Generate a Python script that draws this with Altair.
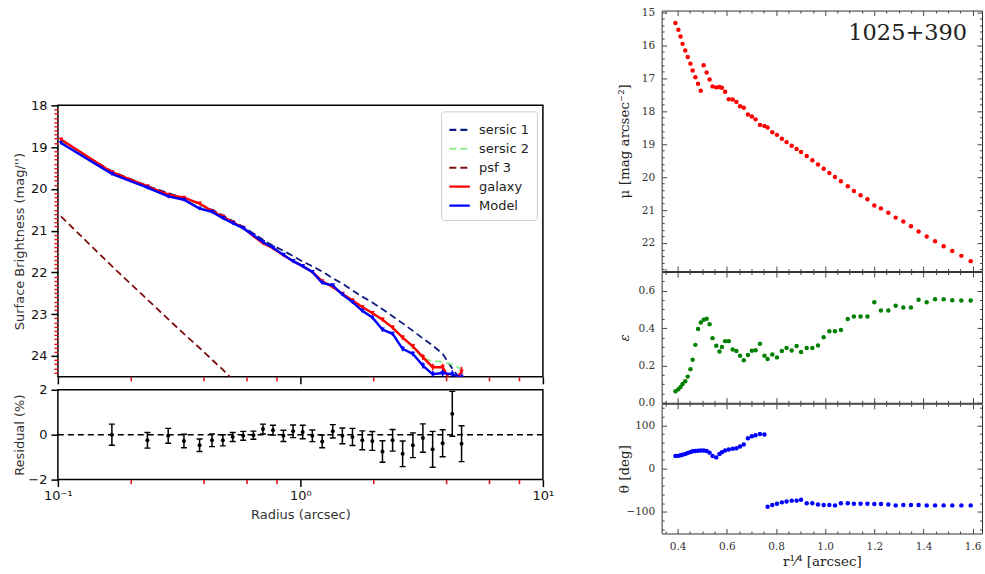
import altair as alt
import pandas as pd

# ---------------- left: surface brightness profile ----------------
radius = [0.103, 0.167, 0.234, 0.285, 0.331, 0.384, 0.432, 0.479, 0.526, 0.581,
          0.640, 0.701, 0.771, 0.851, 0.933, 1.022, 1.12, 1.23, 1.36, 1.49,
          1.64, 1.80, 1.98, 2.18, 2.40, 2.64, 2.91, 3.20, 3.51, 3.86, 4.23, 4.62]
galaxy_mu = [18.82, 19.60, 19.94, 20.14, 20.21, 20.35, 20.53, 20.66, 20.80, 20.93,
             21.13, 21.30, 21.42, 21.59, 21.73, 21.85, 21.99, 22.21, 22.35, 22.51,
             22.67, 22.83, 22.97, 23.13, 23.32, 23.56, 23.77, 24.03, 24.27, 24.27, 24.67, 24.38]
galaxy_err = [0.03, 0.02, 0.02, 0.02, 0.02, 0.02, 0.02, 0.02, 0.02, 0.02,
              0.02, 0.02, 0.02, 0.02, 0.02, 0.03, 0.03, 0.03, 0.03, 0.03,
              0.04, 0.04, 0.04, 0.05, 0.05, 0.06, 0.06, 0.07, 0.08, 0.08, 0.12, 0.12]
model_mu = [18.90, 19.64, 19.97, 20.18, 20.26, 20.47, 20.55, 20.70, 20.82, 20.94,
            21.11, 21.27, 21.41, 21.58, 21.73, 21.85, 21.99, 22.25, 22.31, 22.53,
            22.71, 22.92, 23.08, 23.37, 23.47, 23.83, 23.95, 24.23, 24.44, 24.41, 24.44, 24.52]
model_err = [0.03, 0.02, 0.02, 0.02, 0.02, 0.02, 0.02, 0.02, 0.02, 0.02,
             0.02, 0.02, 0.02, 0.02, 0.02, 0.03, 0.03, 0.03, 0.03, 0.03,
             0.04, 0.04, 0.04, 0.05, 0.05, 0.06, 0.06, 0.07, 0.08, 0.08, 0.10, 0.10]
sersic1_mu = [18.85, 19.58, 19.93, 20.10, 20.22, 20.36, 20.50, 20.63, 20.77, 20.91,
              21.07, 21.22, 21.36, 21.48, 21.61, 21.74, 21.85, 21.98, 22.14, 22.27,
              22.43, 22.58, 22.72, 22.88, 23.05, 23.22, 23.40, 23.58, 23.75, 23.95, 24.30, 24.60]
sersic2_mu = [18.84, 19.61, 19.95, 20.15, 20.23, 20.38, 20.54, 20.68, 20.81, 20.94,
              21.13, 21.30, 21.42, 21.59, 21.73, 21.85, 21.99, 22.22, 22.35, 22.52,
              22.68, 22.85, 22.98, 23.15, 23.33, 23.55, 23.80, 24.05, 24.13, 24.14, 24.20, 24.32]
psf3_radius = [0.103, 0.167, 0.234, 0.285, 0.331, 0.384, 0.432, 0.479, 0.526]
psf3_mu = [20.66, 21.85, 22.65, 23.12, 23.47, 23.81, 24.09, 24.33, 24.57]

res_radius = [0.167, 0.234, 0.285, 0.331, 0.384, 0.432, 0.479, 0.526, 0.581,
              0.640, 0.701, 0.771, 0.851, 0.933, 1.022, 1.12, 1.23, 1.36, 1.49,
              1.64, 1.80, 1.98, 2.18, 2.40, 2.64, 2.91, 3.20, 3.51, 3.86, 4.23, 4.62]
residual = [0.00, -0.25, -0.05, -0.28, -0.47, -0.25, -0.25, -0.10, -0.05, -0.02,
            0.25, 0.20, -0.05, 0.15, 0.12, -0.05, -0.30, 0.15, -0.05, -0.10,
            -0.25, -0.28, -0.75, -0.25, -0.85, -0.47, -0.15, -0.65, -0.38, 0.93, -0.40]
residual_err = [0.47, 0.35, 0.33, 0.30, 0.28, 0.28, 0.25, 0.20, 0.20, 0.18,
                0.22, 0.22, 0.25, 0.28, 0.30, 0.26, 0.28, 0.30, 0.35, 0.38,
                0.42, 0.42, 0.48, 0.48, 0.57, 0.55, 0.63, 0.80, 0.60, 1.00, 0.80]

# ---------------- right: isophote fit (1025+390) ----------------
r_quarter = [0.391, 0.403, 0.412, 0.420, 0.431, 0.441, 0.452, 0.461, 0.472, 0.483,
             0.494, 0.506, 0.518, 0.530, 0.542, 0.557, 0.570, 0.580, 0.593, 0.608,
             0.624, 0.639, 0.654, 0.669, 0.686, 0.702, 0.717, 0.735, 0.753, 0.766,
             0.785, 0.804, 0.824, 0.843, 0.864, 0.884, 0.902, 0.925, 0.948, 0.971,
             0.994, 1.017, 1.040, 1.064, 1.092, 1.117, 1.144, 1.172, 1.200, 1.227,
             1.257, 1.287, 1.318, 1.349, 1.380, 1.413, 1.447, 1.482, 1.517, 1.554, 1.592]
mu_iso = [15.33, 15.53, 15.74, 15.96, 16.16, 16.36, 16.56, 16.77, 16.97, 17.17,
          17.38, 16.61, 16.83, 17.04, 17.25, 17.28, 17.27, 17.29, 17.41, 17.64,
          17.65, 17.72, 17.85, 17.90, 18.10, 18.16, 18.25, 18.42, 18.45, 18.50,
          18.64, 18.72, 18.84, 18.94, 19.05, 19.15, 19.24, 19.36, 19.49, 19.62,
          19.75, 19.88, 20.00, 20.13, 20.28, 20.42, 20.55, 20.67, 20.86, 20.95,
          21.08, 21.23, 21.35, 21.49, 21.65, 21.80, 21.95, 22.10, 22.24, 22.39, 22.55]
ellip = [0.062, 0.072, 0.085, 0.100, 0.115, 0.140, 0.180, 0.230, 0.310, 0.395,
         0.430, 0.445, 0.450, 0.420, 0.346, 0.305, 0.275, 0.298, 0.330, 0.330,
         0.285, 0.277, 0.252, 0.228, 0.256, 0.278, 0.281, 0.316, 0.252, 0.234,
         0.258, 0.243, 0.277, 0.293, 0.280, 0.304, 0.272, 0.293, 0.293, 0.307,
         0.351, 0.383, 0.383, 0.390, 0.449, 0.462, 0.462, 0.462, 0.538, 0.494,
         0.494, 0.520, 0.510, 0.510, 0.552, 0.538, 0.554, 0.554, 0.549, 0.547, 0.547]
pa_deg = [29, 29.5, 31, 32, 34, 36, 38.5, 40, 41, 41.5,
          42, 42, 41, 37, 29, 26, 34, 38, 42, 44,
          46, 47, 51, 56, 70, 75, 77, 80, 79, -88,
          -84, -81, -78, -76, -74, -74, -72, -80, -80, -83,
          -84, -84, -85, -80, -80, -81, -81, -81, -82, -82,
          -83, -85, -84, -84, -84, -85, -85, -85, -85, -85, -85]
object_name = ["1025+390"]

series_names = ["sersic 1", "sersic 2", "psf 3", "galaxy", "Model"]
series_colors = ["#0b1a80", "#8fee8f", "#7d0f0f", "#ff0000", "#0000ff"]
series_dash = [[7, 4], [7, 4], [7, 4], [1, 0], [1, 0]]

SANS = "DejaVu Sans"
SERIF = "DejaVu Serif"

# ---------------- data frames ----------------
comp_df = pd.concat([
    pd.DataFrame({"series": "sersic 1", "r": radius, "mu": sersic1_mu}),
    pd.DataFrame({"series": "sersic 2", "r": radius, "mu": sersic2_mu}),
    pd.DataFrame({"series": "psf 3", "r": psf3_radius, "mu": psf3_mu}),
], ignore_index=True)
gal_df = pd.DataFrame({"series": "galaxy", "r": radius, "mu": galaxy_mu, "err": galaxy_err})
mod_df = pd.DataFrame({"series": "Model", "r": radius, "mu": model_mu, "err": model_err})
for d in (gal_df, mod_df):
    d["lo"] = d["mu"] - d["err"]
    d["hi"] = d["mu"] + d["err"]
res_df = pd.DataFrame({"r": res_radius, "res": residual, "err": residual_err})
res_df["lo"] = res_df["res"] - res_df["err"]
res_df["hi"] = res_df["res"] + res_df["err"]
zero_df = pd.DataFrame({"zero": [0.0]})
iso_df = pd.DataFrame({"rq": r_quarter, "mu": mu_iso, "eps": ellip, "pa": pa_deg})

# ---------------- scales / axes helpers ----------------
x_log = alt.Scale(type="log", domain=[0.1, 10], nice=False)
y_sb = alt.Scale(domain=[18, 24.5], reverse=True, nice=False, zero=False)
y_res = alt.Scale(domain=[-2, 2], nice=False, zero=False)
color_scale = alt.Scale(domain=series_names, range=series_colors)
dash_scale = alt.Scale(domain=series_names, range=series_dash)

log_minor = [0.2, 0.4, 0.6, 0.8, 2, 4, 6, 8]
sb_minor = [round(18 + 0.1 * i, 1) for i in range(1, 65) if i % 10 != 0]


def plain_axis(orient, values, size, color, width, offset=0):
    return alt.Axis(orient=orient, values=values, tickSize=size, tickColor=color,
                    tickWidth=width, offset=offset, labels=False, domain=False,
                    grid=False, title=None)


legend_sb = alt.Legend(title=None, orient="top-right", offset=6, padding=7,
                       rowPadding=0, symbolType="stroke", symbolSize=420,
                       symbolStrokeWidth=2.2, labelFont=SANS, labelFontSize=13,
                       labelColor="#222", labelOffset=8, strokeColor="#cccccc",
                       fillColor="white", cornerRadius=3)

axis_sb_y = alt.Axis(orient="left", values=list(range(18, 25)), format="d",
                     tickSize=7, tickWidth=1.5, tickColor="black", domain=False,
                     grid=False, labelFont=SANS, labelFontSize=13, labelColor="#111",
                     labelPadding=4, title="Surface Brightness (mag/'')",
                     titleFont=SANS, titleFontSize=13, titleFontWeight="normal",
                     titleColor="#333", titleX=-31)
axis_sb_x = plain_axis("bottom", [0.1, 1, 10], 7, "black", 1.5)

comp_layer = alt.Chart(comp_df).mark_line(clip=True, strokeWidth=1.8).encode(
    x=alt.X("r:Q", scale=x_log, axis=axis_sb_x),
    y=alt.Y("mu:Q", scale=y_sb, axis=axis_sb_y),
    color=alt.Color("series:N", scale=color_scale, legend=legend_sb),
    strokeDash=alt.StrokeDash("series:N", scale=dash_scale, legend=legend_sb),
)
sb_minor_layer = alt.Chart(gal_df).mark_point(opacity=0, clip=True).encode(
    x=alt.X("r:Q", scale=x_log, axis=plain_axis("bottom", log_minor, 4, "#e8101a", 1.6)),
    y=alt.Y("mu:Q", scale=y_sb, axis=plain_axis("left", sb_minor, 4, "#e8101a", 1.4)),
)


def profile_layers(df, color):
    base = alt.Chart(df)
    line = base.mark_line(clip=True, strokeWidth=2.4).encode(
        x=alt.X("r:Q", scale=x_log, axis=None),
        y=alt.Y("mu:Q", scale=y_sb, axis=None),
        color=alt.Color("series:N", scale=color_scale, legend=legend_sb),
    )
    bars = base.mark_rule(clip=True, strokeWidth=1.6, color=color).encode(
        x=alt.X("r:Q", scale=x_log, axis=None),
        y=alt.Y("lo:Q", scale=y_sb, axis=None),
        y2="hi:Q",
    )
    pts = base.mark_point(clip=True, shape="triangle-down", filled=True, size=22,
                          opacity=1, color=color).encode(
        x=alt.X("r:Q", scale=x_log, axis=None),
        y=alt.Y("mu:Q", scale=y_sb, axis=None),
    )
    return [line, bars, pts]


sb_panel = alt.layer(
    comp_layer, sb_minor_layer, *profile_layers(gal_df, "#ff0000"),
    *profile_layers(mod_df, "#0000ff")
).resolve_axis(x="independent", y="independent").properties(width=486, height=272)

# residual panel
axis_res_x = alt.Axis(orient="bottom", values=[0.1, 1, 10],
                      labelExpr="datum.value < 0.5 ? '10⁻¹' : (datum.value < 5 ? '10⁰' : '10¹')",
                      tickSize=7, tickWidth=1.5, tickColor="black", domain=False,
                      grid=False, labelFont=SANS, labelFontSize=13, labelColor="#111",
                      labelPadding=3, labelFlush=False, labelOverlap=False,
                      title="Radius (arcsec)", titleFont=SANS, titleFontSize=13,
                      titleFontWeight="normal", titleColor="#333", titlePadding=6)
axis_res_y = alt.Axis(orient="left", values=[-2, 0, 2], format="d", tickSize=7,
                      tickWidth=1.5, tickColor="black", domain=False, grid=False,
                      labelFont=SANS, labelFontSize=13, labelColor="#111",
                      labelPadding=4, title="Residual (%)", titleFont=SANS,
                      titleFontSize=13, titleFontWeight="normal", titleColor="#333",
                      titleX=-31)
res_base = alt.Chart(res_df)
res_zero = alt.Chart(zero_df).mark_rule(color="black", strokeWidth=1.5,
                                        strokeDash=[6, 4]).encode(
    y=alt.Y("zero:Q", scale=y_res, axis=None))
res_bars = res_base.mark_rule(color="black", strokeWidth=1.5, clip=True).encode(
    x=alt.X("r:Q", scale=x_log, axis=axis_res_x),
    y=alt.Y("lo:Q", scale=y_res, axis=axis_res_y),
    y2="hi:Q",
)
res_minor = res_base.mark_point(opacity=0, clip=True).encode(
    x=alt.X("r:Q", scale=x_log, axis=plain_axis("bottom", log_minor, 4, "#e8101a", 1.6)),
    y=alt.Y("res:Q", scale=y_res, axis=None),
)
res_cap_lo = res_base.mark_tick(orient="horizontal", size=6, thickness=1.4,
                                color="black", opacity=1, clip=True).encode(
    x=alt.X("r:Q", scale=x_log, axis=None), y=alt.Y("lo:Q", scale=y_res, axis=None))
res_cap_hi = res_base.mark_tick(orient="horizontal", size=6, thickness=1.4,
                                color="black", opacity=1, clip=True).encode(
    x=alt.X("r:Q", scale=x_log, axis=None), y=alt.Y("hi:Q", scale=y_res, axis=None))
res_pts = res_base.mark_circle(size=16, color="black", opacity=1, clip=True).encode(
    x=alt.X("r:Q", scale=x_log, axis=None), y=alt.Y("res:Q", scale=y_res, axis=None))

res_panel = alt.layer(res_bars, res_minor, res_zero, res_cap_lo, res_cap_hi, res_pts
                      ).resolve_axis(x="independent", y="independent"
                                     ).properties(width=486, height=90)

spacer = alt.Chart(zero_df).mark_point(opacity=0).encode(
    x=alt.X("zero:Q", axis=None), y=alt.Y("zero:Q", axis=None)
).properties(width=486, height=82, view=alt.ViewBackground(strokeOpacity=0))

left_col = alt.vconcat(spacer, sb_panel, res_panel, spacing=13, bounds="flush"
                       ).resolve_scale(color="independent", strokeDash="independent")

# ---------------- right panels ----------------
x_rq = alt.Scale(domain=[0.335, 1.638], nice=False, zero=False)
rq_major = [0.4, 0.6, 0.8, 1.0, 1.2, 1.4, 1.6]
rq_minor = [round(0.35 + 0.05 * i, 2) for i in range(0, 26) if i % 4 != 1]
TICK_C = "#444"


def in_axis(orient, values, size):
    return alt.Axis(orient=orient, values=values, offset=-size, tickSize=size,
                    tickColor=TICK_C, tickWidth=1, labels=False, domain=False,
                    grid=False, title=None)


def right_panel(field, yscale, ymaj, ymin, yfmt, ytitle, color, height,
                show_x=False, italic=False, extra=None):
    base = alt.Chart(iso_df)
    if show_x:
        x_axis = alt.Axis(orient="bottom", values=rq_major, format=".1f", ticks=False,
                          domain=False, grid=False, labelFont=SERIF, labelFontSize=10.5,
                          labelColor="#333", labelPadding=8, labelFlush=False,
                          labelOverlap=False, title="r¹⁄⁴ [arcsec]", titleFont=SERIF,
                          titleFontSize=13.5, titleFontWeight="normal",
                          titleColor="#222", titlePadding=3)
    else:
        x_axis = None
    y_axis = alt.Axis(orient="left", values=ymaj, format=yfmt, ticks=False,
                      domain=False, grid=False, labelFont=SERIF, labelFontSize=10.5,
                      labelColor="#333", labelPadding=7, labelFlush=False,
                      labelOverlap=False, title=ytitle, titleFont=SERIF,
                      titleFontSize=13.5, titleFontWeight="normal",
                      titleFontStyle=("italic" if italic else "normal"),
                      titleColor="#222", titleX=-30)
    pts = base.mark_circle(size=20, opacity=1, color=color, clip=True).encode(
        x=alt.X("rq:Q", scale=x_rq, axis=x_axis),
        y=alt.Y(f"{field}:Q", scale=yscale, axis=y_axis),
    )
    layers = [pts]
    for ox, oy in (("bottom", "left"), ("top", "right")):
        for xv, yv, sz in ((rq_major, ymaj, 5), (rq_minor, ymin, 2.5)):
            layers.append(base.mark_point(opacity=0, clip=True).encode(
                x=alt.X("rq:Q", scale=x_rq, axis=in_axis(ox, xv, sz)),
                y=alt.Y(f"{field}:Q", scale=yscale, axis=in_axis(oy, yv, sz)),
            ))
    if extra is not None:
        layers.append(extra)
    return alt.layer(*layers).resolve_axis(x="independent", y="independent").properties(
        width=321, height=height, view=alt.ViewBackground(stroke="#333", strokeWidth=1))


label_layer = alt.Chart(pd.DataFrame({"name": object_name})).mark_text(
    align="right", baseline="middle", font=SERIF, fontSize=22.5, color="#222"
).encode(x=alt.value(306), y=alt.value(23), text="name:N")

mu_minor = [round(15 + 0.2 * i, 1) for i in range(1, 40) if i % 5 != 0]
eps_minor = [0.05, 0.1, 0.15, 0.25, 0.3, 0.35, 0.45, 0.5, 0.55, 0.65]
pa_minor = [v for v in range(-140, 150, 20) if v % 100 != 0]

p_mu = right_panel("mu", alt.Scale(domain=[14.95, 22.85], reverse=True, nice=False, zero=False),
                   list(range(15, 23)), mu_minor, "d", "μ [mag arcsec⁻²]", "#ff0000", 261,
                   extra=label_layer)
p_eps = right_panel("eps", alt.Scale(domain=[0, 0.7], nice=False, zero=False),
                    [0, 0.2, 0.4, 0.6], eps_minor, ".1f", "ε", "#008000", 131, italic=True)
p_pa = right_panel("pa", alt.Scale(domain=[-150, 150], nice=False, zero=False),
                   [-100, 0, 100], pa_minor, "d", "θ [deg]", "#0000ff", 130, show_x=True)

right_col = alt.vconcat(p_mu, p_eps, p_pa, spacing=1, bounds="flush")

chart = alt.hconcat(left_col, right_col, spacing=62).properties(
    padding={"left": 13, "top": 6, "right": 2, "bottom": 0}
).resolve_scale(color="independent", strokeDash="independent"
                ).configure(font=SANS).configure_view(stroke="black", strokeWidth=1.5)

chart.save("out.html", embed_options={"renderer": "svg", "actions": False})
